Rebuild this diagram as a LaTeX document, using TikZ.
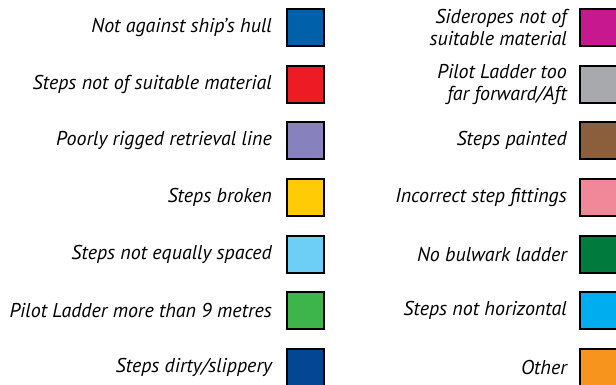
\documentclass[tikz,border=0pt]{standalone}
\usepackage{fontspec}
\setmainfont{PT Sans}
\usetikzlibrary{positioning}

\definecolor{cHull}{RGB}{0,96,170}
\definecolor{cMaterial}{RGB}{237,28,36}
\definecolor{cRetrieval}{RGB}{135,129,189}
\definecolor{cBroken}{RGB}{255,203,5}
\definecolor{cSpaced}{RGB}{109,207,246}
\definecolor{cMetres}{RGB}{61,181,74}
\definecolor{cDirty}{RGB}{3,70,148}
\definecolor{cSiderope}{RGB}{200,24,143}
\definecolor{cForward}{RGB}{167,169,172}
\definecolor{cPainted}{RGB}{139,94,60}
\definecolor{cFittings}{RGB}{241,136,154}
\definecolor{cBulwark}{RGB}{0,122,61}
\definecolor{cHorizontal}{RGB}{0,174,239}
\definecolor{cOther}{RGB}{247,148,29}

\begin{document}
\begin{tikzpicture}[x=1pt, y=-1pt, line join=miter,
  swatch/.style={draw=black, line width=2pt, minimum size=37pt, inner sep=0pt},
  caption/.style={font=\itshape\fontsize{20}{22}\selectfont, align=right, inner sep=0pt}]

% ----------------------------
% PARAMETERS
% ----------------------------
\def\dy{56.67}
\def\yA{27.5}
\def\xL{305.5}
\def\xR{598.5}

\useasboundingbox (0,0) rectangle (616,385);

% ----------------------------
% LEFT COLUMN
% ----------------------------
\foreach \i/\col/\txt in {
  1/cHull/{Not against ship’s hull},
  2/cMaterial/{Steps not of suitable material},
  3/cRetrieval/{Poorly rigged retrieval line},
  4/cBroken/{Steps broken},
  5/cSpaced/{Steps not equally spaced},
  6/cMetres/{Pilot Ladder more than 9 metres},
  7/cDirty/{Steps dirty/slippery}} {
  \node[swatch, fill=\col] (sl\i) at (\xL,{\yA+\dy*(\i-1)}) {};
  \node[caption, left=14pt of sl\i] (tl\i) {\txt};
}

% ----------------------------
% RIGHT COLUMN
% ----------------------------
\foreach \i/\col/\txt in {
  1/cSiderope/{Sideropes not of\\suitable material},
  2/cForward/{Pilot Ladder too\\far forward/Aft},
  3/cPainted/{Steps painted},
  4/cFittings/{Incorrect step fittings},
  5/cBulwark/{No bulwark ladder},
  6/cHorizontal/{Steps not horizontal},
  7/cOther/{Other}} {
  \node[swatch, fill=\col] (sr\i) at (\xR,{\yA+\dy*(\i-1)}) {};
  \node[caption, left=12pt of sr\i] (tr\i) {\txt};
}

\end{tikzpicture}
\end{document}
